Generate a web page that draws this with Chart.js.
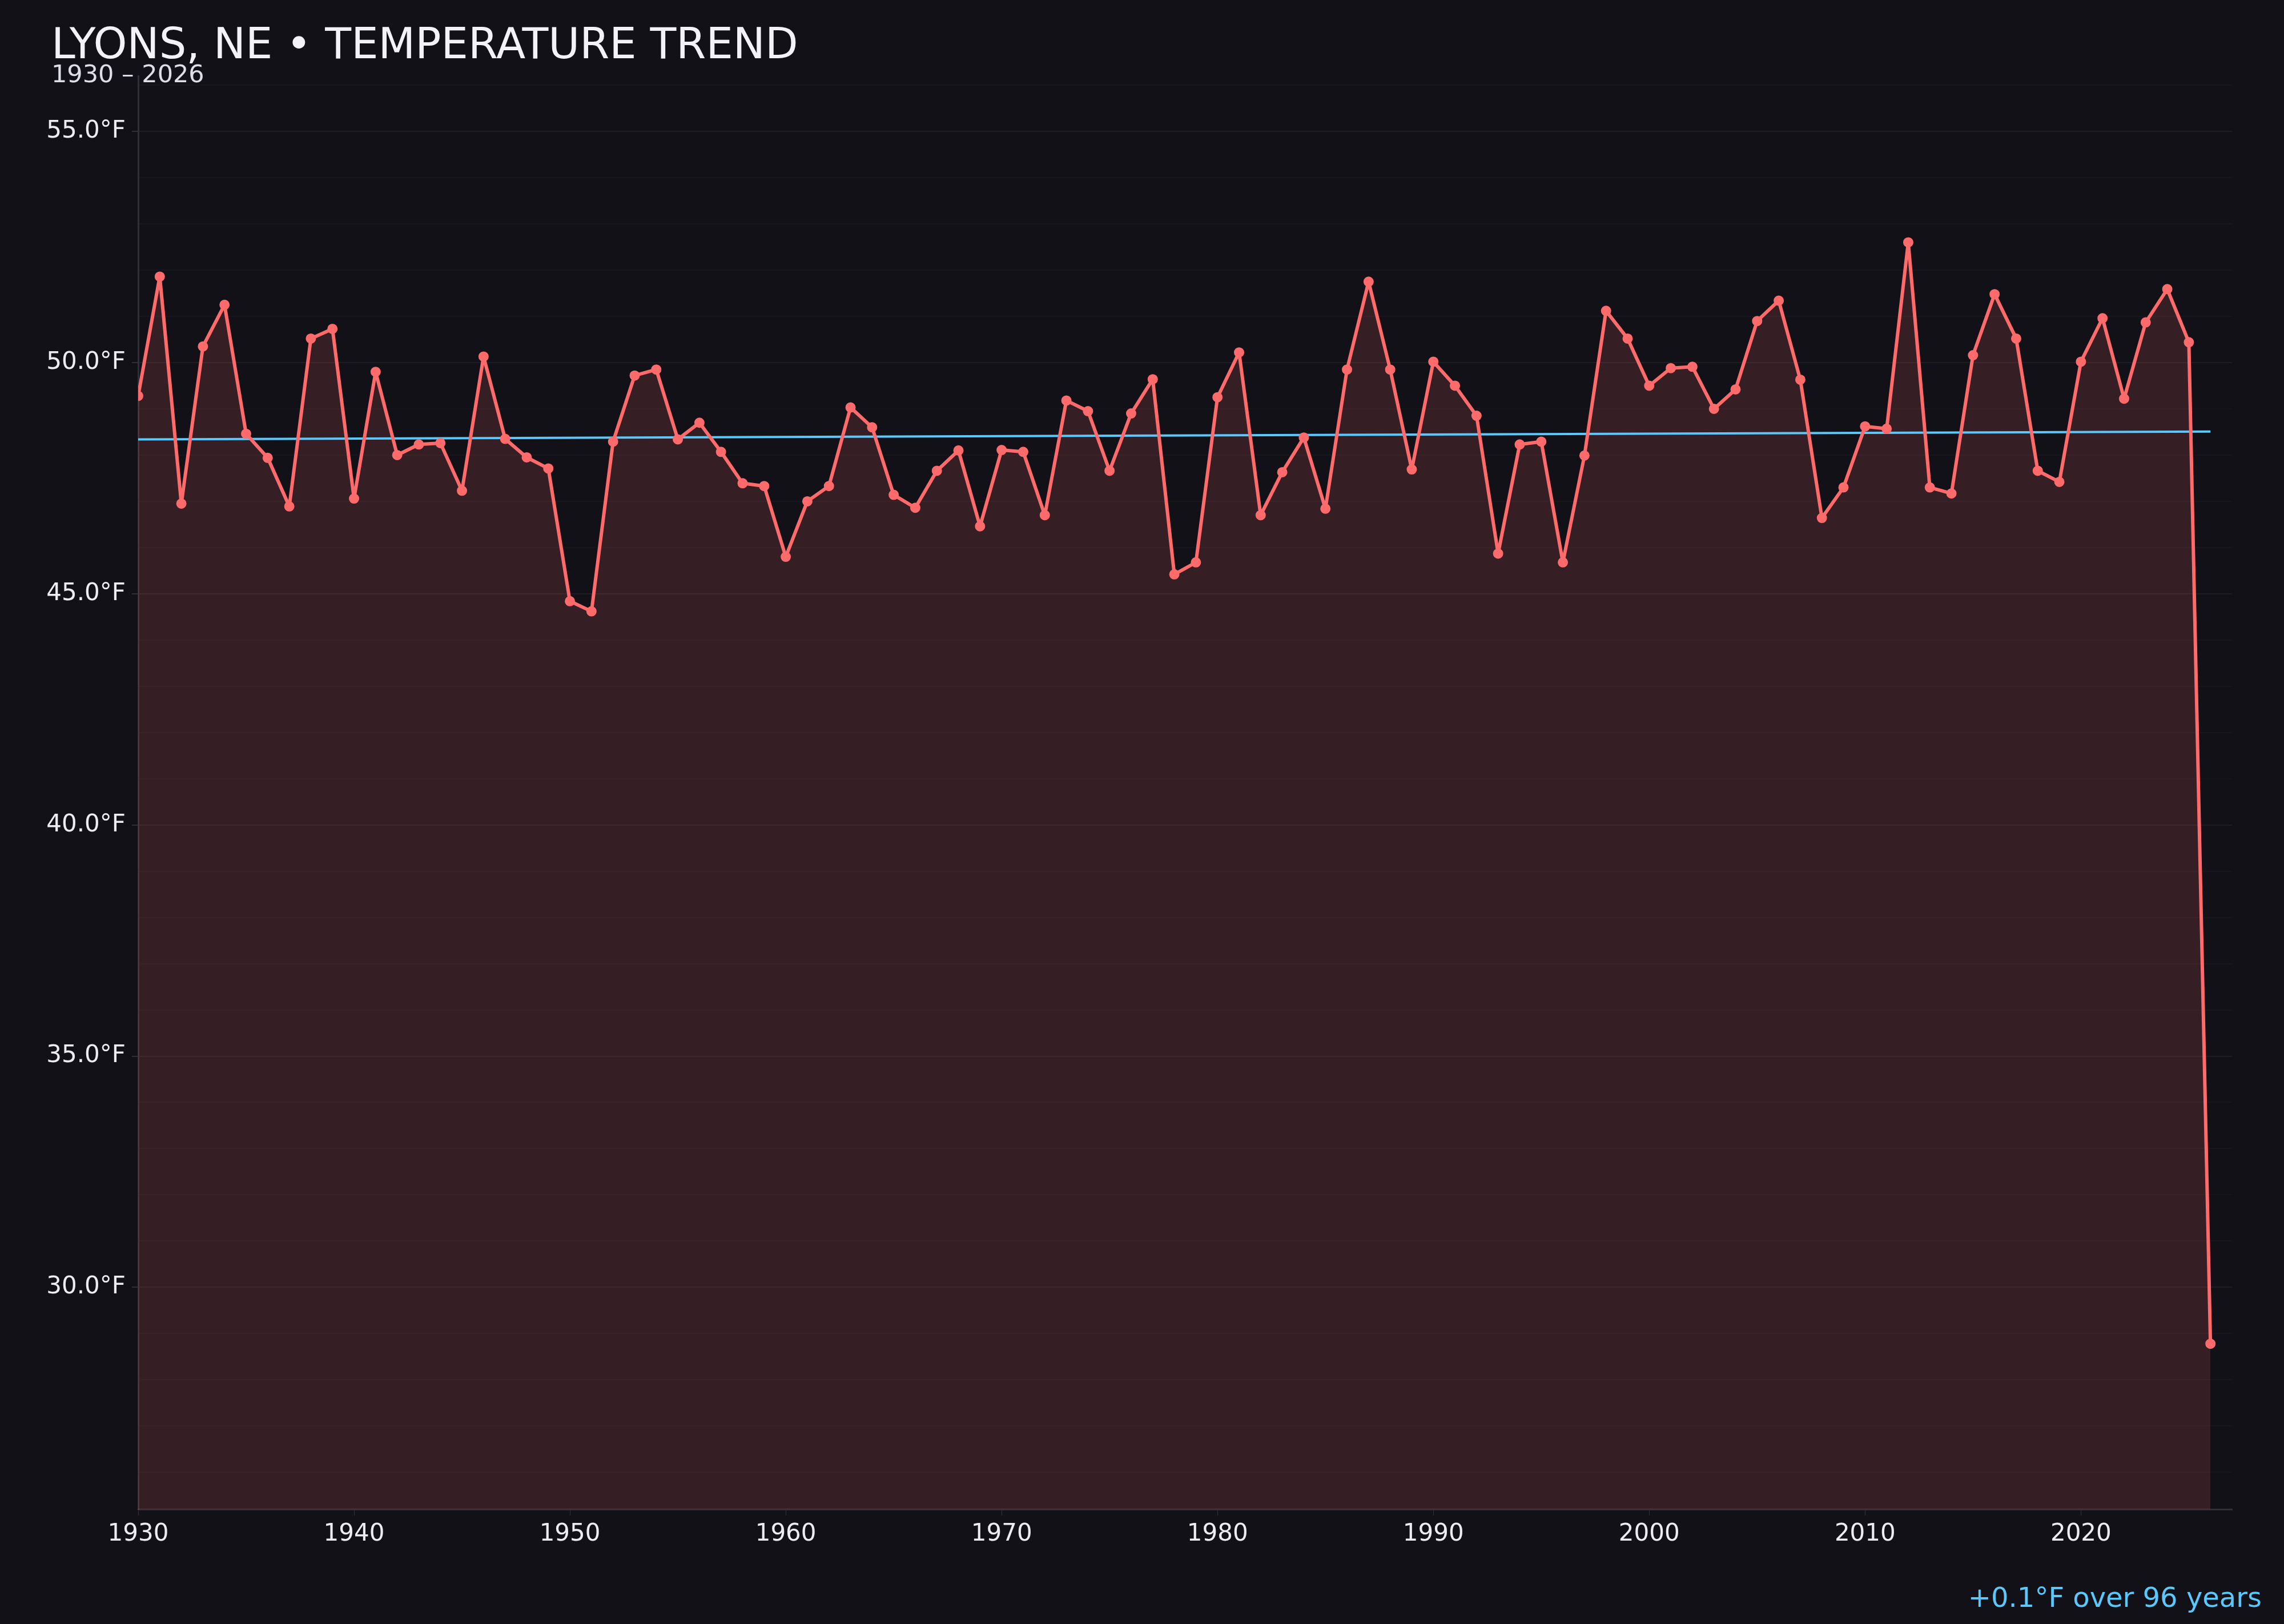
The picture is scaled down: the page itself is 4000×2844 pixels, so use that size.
<!DOCTYPE html>
<html>
<head>
<meta charset="utf-8">
<title>Lyons, NE temperature trend</title>
<script src="https://cdn.jsdelivr.net/npm/chart.js@4.4.1/dist/chart.umd.min.js"></script>
<style>
  html, body { margin: 0; padding: 0; background: #121118; }
  canvas { display: block; }
</style>
</head>
<body>
<canvas id="trendChart" width="4000" height="2844"></canvas>
<script>
// annual mean temperature
const years = [
    1930, 1931, 1932, 1933, 1934, 1935, 1936, 1937, 1938, 1939,
    1940, 1941, 1942, 1943, 1944, 1945, 1946, 1947, 1948, 1949,
    1950, 1951, 1952, 1953, 1954, 1955, 1956, 1957, 1958, 1959,
    1960, 1961, 1962, 1963, 1964, 1965, 1966, 1967, 1968, 1969,
    1970, 1971, 1972, 1973, 1974, 1975, 1976, 1977, 1978, 1979,
    1980, 1981, 1982, 1983, 1984, 1985, 1986, 1987, 1988, 1989,
    1990, 1991, 1992, 1993, 1994, 1995, 1996, 1997, 1998, 1999,
    2000, 2001, 2002, 2003, 2004, 2005, 2006, 2007, 2008, 2009,
    2010, 2011, 2012, 2013, 2014, 2015, 2016, 2017, 2018, 2019,
    2020, 2021, 2022, 2023, 2024, 2025, 2026
];
const avgTemps = [
    49.28, 51.86, 46.95, 50.35, 51.25, 48.46, 47.94, 46.89, 50.52, 50.73,
    47.06, 49.80, 48.00, 48.23, 48.26, 47.23, 50.13, 48.35, 47.95, 47.71,
    44.84, 44.62, 48.29, 49.72, 49.85, 48.34, 48.70, 48.07, 47.39, 47.33,
    45.80, 47.00, 47.33, 49.03, 48.60, 47.14, 46.86, 47.66, 48.10, 46.46,
    48.11, 48.07, 46.70, 49.18, 48.95, 47.66, 48.90, 49.64, 45.42, 45.68,
    49.25, 50.22, 46.70, 47.63, 48.38, 46.84, 49.85, 51.75, 49.85, 47.69,
    50.02, 49.50, 48.85, 45.87, 48.23, 48.29, 45.68, 47.99, 51.12, 50.52,
    49.50, 49.88, 49.91, 49.00, 49.42, 50.90, 51.34, 49.63, 46.64, 47.30,
    48.62, 48.57, 52.60, 47.30, 47.17, 50.16, 51.48, 50.52, 47.66, 47.42,
    50.02, 50.96, 49.22, 50.87, 51.59, 50.44, 28.78
];
const trendYears = [1930, 2026];
const trendTemps = [48.34, 48.51];

const yearTicks = [1930, 1940, 1950, 1960, 1970, 1980, 1990, 2000, 2010, 2020];
const tempTicks = [30, 35, 40, 45, 50, 55];

const titleText = 'LYONS, NE \u2022 TEMPERATURE TREND';
const subtitleText = '1930 \u2013 2026';
const trendNote = '+0.1\u00B0F over 96 years';

const FONT = '"DejaVu Sans", "Noto Sans", sans-serif';
const BG = '#121118';
const RED = '#ff6b6b';
const BLUE = '#5ac8fa';
const AXIS = 'rgba(255, 255, 255, 0.13)';

// background, heading and the note under the plot
const chartText = {
    id: 'chartText',
    beforeDraw(chart) {
        const c = chart.ctx;
        c.save();
        c.fillStyle = BG;
        c.fillRect(0, 0, chart.width, chart.height);
        c.restore();
    },
    afterDraw(chart) {
        const c = chart.ctx;
        c.save();
        c.textBaseline = 'alphabetic';
        c.textAlign = 'left';
        c.fillStyle = '#f2f2f7';
        c.font = '75px ' + FONT;
        c.fillText(titleText, 90, 102);
        c.fillStyle = '#dedee6';
        c.font = '43px ' + FONT;
        c.fillText(subtitleText, 90, 144);
        c.textAlign = 'right';
        c.fillStyle = BLUE;
        c.font = '48px ' + FONT;
        c.fillText(trendNote, 3961, 2814);
        c.restore();
    }
};

document.addEventListener('DOMContentLoaded', function() {
    const ctx = document.getElementById('trendChart').getContext('2d');
    new Chart(ctx, {
        type: 'line',
        data: {
            datasets: [{
                label: 'Annual mean',
                data: years.map((y, i) => ({ x: y, y: avgTemps[i] })),
                borderColor: RED,
                backgroundColor: 'rgba(255, 107, 107, 0.15)',
                borderWidth: 6,
                borderJoinStyle: 'round',
                pointRadius: 8,
                pointBorderWidth: 2,
                pointBackgroundColor: RED,
                pointBorderColor: RED,
                tension: 0,
                fill: 'start'
            }, {
                label: 'Trend',
                data: trendYears.map((y, i) => ({ x: y, y: trendTemps[i] })),
                borderColor: BLUE,
                borderWidth: 4,
                pointRadius: 0,
                tension: 0,
                fill: false
            }]
        },
        options: {
            responsive: false,
            animation: false,
            layout: {
                padding: { top: 133, right: 91, bottom: 0, left: 0 }
            },
            scales: {
                x: {
                    type: 'linear',
                    min: 1930,
                    max: 2027,
                    afterBuildTicks: function(scale) {
                        scale.ticks = yearTicks.map(v => ({ value: v }));
                    },
                    afterFit: function(scale) {
                        scale.height = 201;
                    },
                    ticks: {
                        color: '#ececf1',
                        font: { family: FONT, size: 42 },
                        padding: 8,
                        maxRotation: 0,
                        autoSkip: false,
                        callback: v => String(v)
                    },
                    grid: {
                        drawOnChartArea: false,
                        tickLength: 11,
                        tickColor: AXIS
                    },
                    border: { color: AXIS, width: 3 }
                },
                y: {
                    type: 'linear',
                    min: 25.2,
                    max: 56.2,
                    afterBuildTicks: function(scale) {
                        const ticks = [];
                        for (let t = 26; t <= 56; t++) ticks.push({ value: t });
                        scale.ticks = ticks;
                    },
                    afterFit: function(scale) {
                        scale.width = 242;
                    },
                    ticks: {
                        color: '#ececf1',
                        font: { family: FONT, size: 42 },
                        padding: 11,
                        autoSkip: false,
                        callback: v => tempTicks.includes(v) ? v.toFixed(1) + '\u00B0F' : ''
                    },
                    grid: {
                        lineWidth: 2,
                        tickLength: 11,
                        color: c => tempTicks.includes(c.tick.value) ? 'rgba(255, 255, 255, 0.05)' : 'rgba(255, 255, 255, 0.022)',
                        tickColor: c => tempTicks.includes(c.tick.value) ? AXIS : 'rgba(0, 0, 0, 0)'
                    },
                    border: { color: AXIS, width: 3 }
                }
            },
            plugins: {
                legend: { display: false },
                tooltip: { enabled: false },
                filler: { drawTime: 'beforeDatasetsDraw' }
            }
        },
        plugins: [chartText]
    });
});
</script>
</body>
</html>
